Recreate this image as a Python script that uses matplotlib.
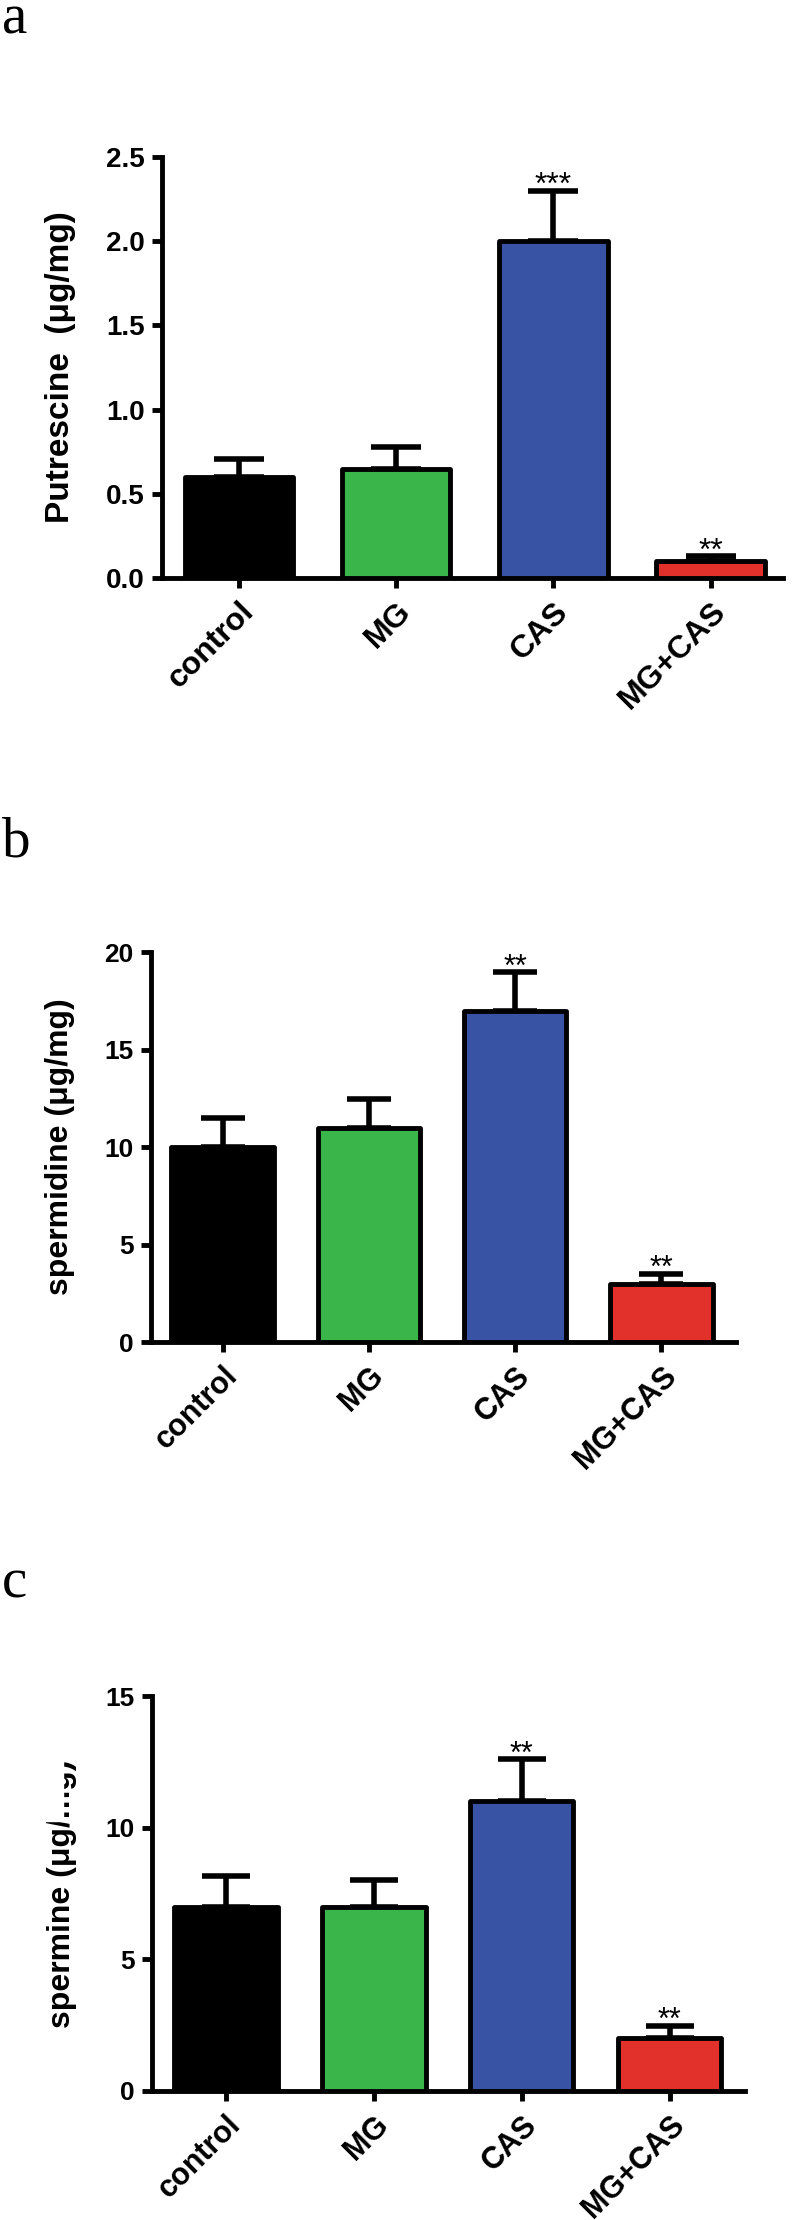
import numpy as np
import matplotlib.pyplot as plt
from matplotlib.patches import Rectangle

groups = ['control', 'MG', 'CAS', 'MG+CAS']
colors = ['#000000', '#39b54a', '#3953a4', '#e2302a']

putrescine = [0.60, 0.65, 2.00, 0.10]
putrescine_err = [0.106, 0.13, 0.30, 0.03]
spermidine = [10.0, 11.0, 17.0, 3.0]
spermidine_err = [1.5, 1.45, 1.95, 0.5]
spermine = [7.0, 7.0, 11.0, 2.0]
spermine_err = [1.15, 1.0, 1.6, 0.48]

stars_a = ['', '', '***', '**']
stars_b = ['', '', '**', '**']
stars_c = ['', '', '**', '**']

ticks_a = [0, 0.5, 1.0, 1.5, 2.0, 2.5]
ticks_b = [0, 5, 10, 15, 20]
ticks_c = [0, 5, 10, 15]

plt.rcParams['font.family'] = ['Liberation Sans', 'DejaVu Sans']

fig = plt.figure(figsize=(8, 22.2), dpi=100)
W, H = 800, 2220

# panel settings: letter, data, error, stars, ticks, tick fmt, ylabel,
# axes box in pixels (left, right, top, bottom), xlim, bar width, letter baseline,
# tick font, label font, x label font, cap size, ylabel x position
panels = [
    ('a', putrescine, putrescine_err, stars_a, ticks_a, '%.1f', 'Putrescine  (\u03bcg/mg)',
     (162, 783, 157, 578), (-0.49, 3.46), 0.69, 33, 20, 24, 23, 18, -0.138),
    ('b', spermidine, spermidine_err, stars_b, ticks_b, '%d', 'spermidine (\u03bcg/mg)',
     (151, 736, 952, 1342), (-0.49, 3.51), 0.70, 857, 19, 23, 22, 16, -0.130),
    ('c', spermine, spermine_err, stars_c, ticks_c, '%d', 'spermine (\u03bcg/mg)',
     (152, 745, 1696, 2091), (-0.50, 3.51), 0.70, 1598, 19, 23, 22, 17, -0.126),
]

x = np.arange(len(groups))
for (letter, vals, errs, stars, ticks, fmt, ylabel, box, xlim, bw, base,
     tfs, lfs, xfs, cap, lx) in panels:
    l, r, t, b = box
    ax = fig.add_axes([l / W, 1 - b / H, (r - l) / W, (b - t) / H])
    bars = ax.bar(x, vals, width=bw, color=colors, edgecolor='black',
                  linewidth=3.5, zorder=3)
    for p in bars:
        p.set_joinstyle('round')
    ax.errorbar(x, vals, yerr=[np.zeros(len(vals)), errs], fmt='none',
                ecolor='black', elinewidth=4, capsize=cap, capthick=4, zorder=2)
    for i, s in enumerate(stars):
        if s:
            ax.annotate(s, (x[i], vals[i] + errs[i]), xytext=(0, -2.5),
                        textcoords='offset points', ha='center', va='baseline',
                        fontsize=xfs)
    ax.set_xlim(*xlim)
    ax.set_ylim(ticks[0], ticks[-1])
    ax.set_yticks(ticks)
    ax.set_yticklabels([fmt % v for v in ticks], fontsize=tfs, fontweight='bold')
    ax.set_xticks(x)
    ax.set_xticklabels(groups, fontsize=xfs, fontweight='bold', rotation=45,
                       ha='right', va='top', rotation_mode='anchor')
    for side in ['top', 'right']:
        ax.spines[side].set_visible(False)
    for side in ['left', 'bottom']:
        ax.spines[side].set_linewidth(3.5)
        ax.spines[side].set_capstyle('projecting')
    ax.tick_params(axis='y', length=7.5, width=3.5, pad=5)
    ax.tick_params(axis='x', length=7.5, width=3.5, pad=6)
    ax.set_ylabel(ylabel, fontsize=lfs, fontweight='bold')
    ax.yaxis.set_label_coords(lx, 0.5)
    fig.text(2 / W, 1 - base / H, letter, fontsize=41, family='Liberation Serif',
             va='baseline', ha='left')

# the spermine label is partly blanked out in the original figure
fig.patches.append(Rectangle((25 / W, 1 - 1821 / H), 38 / W, 66 / H,
                             transform=fig.transFigure, color='white', zorder=5))

plt.savefig('out.png', dpi=100)
